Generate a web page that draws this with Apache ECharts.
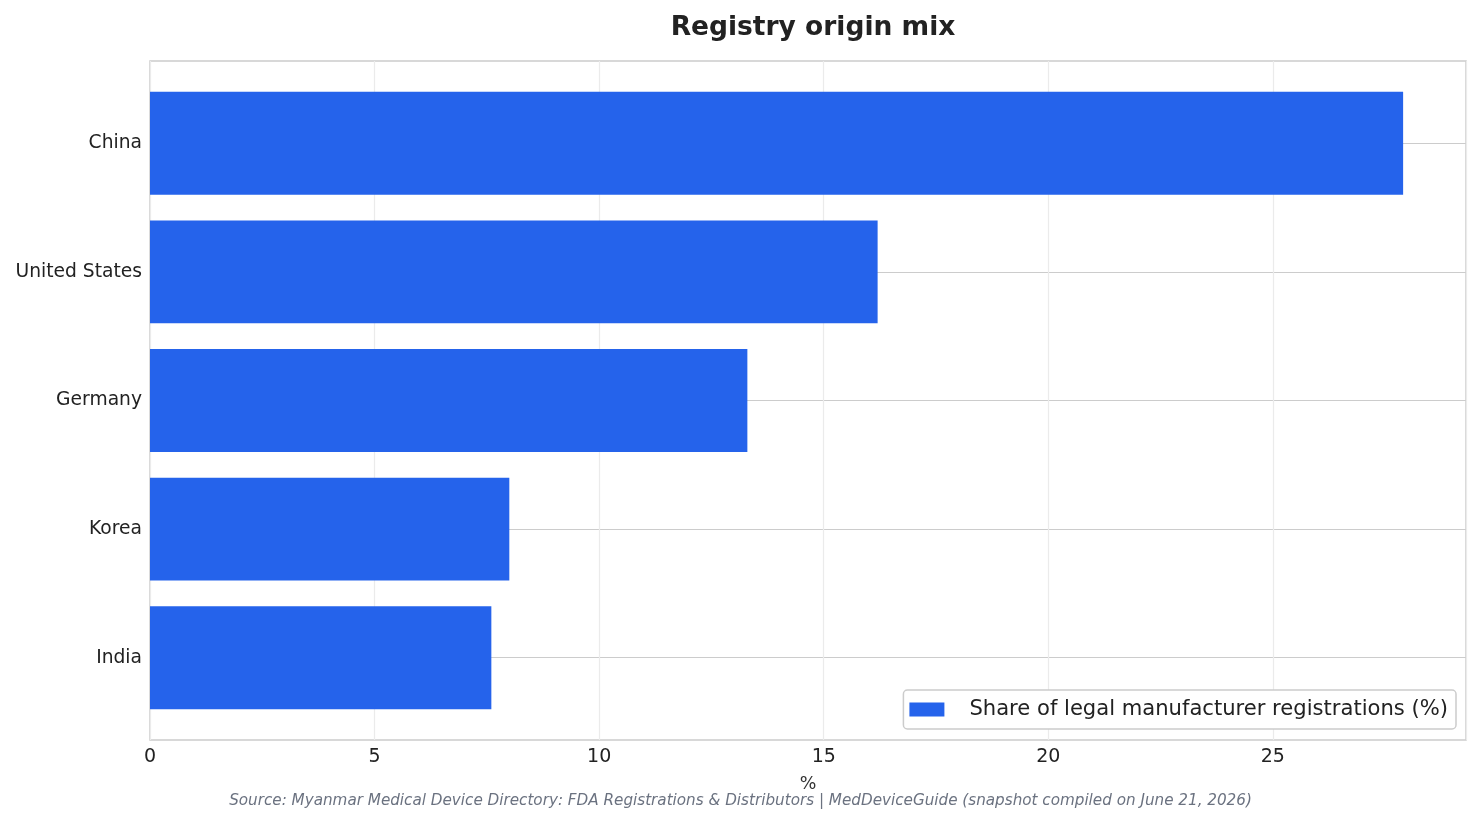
<!DOCTYPE html>
<html><head><meta charset="utf-8">
<script src="https://cdn.jsdelivr.net/npm/echarts@6/dist/echarts.min.js"></script>
<style>html,body{margin:0;padding:0;background:#fff}#c{width:1481px;height:824px}</style>
</head><body><div id="c"></div>
<script>
const categories = ["China", "United States", "Germany", "Korea", "India"];
const shareValues = [27.9, 16.2, 13.3, 8.0, 7.6];
const seriesName = "Share of legal manufacturer registrations (%)";
const xMin = 0, xMax = 29.3, xStep = 5;

const font = "DejaVu Sans";
const chart = echarts.init(document.getElementById('c'));
chart.setOption({
  animation: false,
  backgroundColor: '#fff',
  title: {
    text: 'Registry origin mix', left: 808, top: 10, textAlign: 'center',
    textStyle: {fontFamily: font, fontSize: 26.5, fontWeight: 'bold', color: '#222'}
  },
  graphic: [{
    type: 'text', left: 'center', top: 794,
    style: {text: 'Source: Myanmar Medical Device Directory: FDA Registrations & Distributors | MedDeviceGuide (snapshot compiled on June 21, 2026)',
      font: 'italic 15.2px "DejaVu Sans"', fill: '#6b7280'}
  }],
  legend: {
    data: [{name: seriesName, icon: 'rect'}], right: 25, top: 690, orient: 'vertical',
    itemWidth: 35, itemHeight: 14, itemGap: 5,
    padding: [9, 8, 9, 6],
    backgroundColor: '#fff', borderColor: '#cccccc', borderWidth: 1.5, borderRadius: 4,
    textStyle: {fontFamily: font, fontSize: 21.1, color: '#222', padding: [0, 0, 0, 20]}
  },
  grid: [
    {left: 150, right: 15, top: 61, bottom: 84, show: true, borderColor: '#cccccc', borderWidth: 1.5, backgroundColor: 'transparent'},
    {left: 150, right: 15, top: 79, bottom: 102}
  ],
  xAxis: [
    {type: 'value', gridIndex: 0, min: xMin, max: xMax, interval: xStep,
     name: '%', nameLocation: 'middle', nameGap: 35,
     nameTextStyle: {fontFamily: font, fontSize: 17.5, color: '#333'},
     axisLine: {show: false}, axisTick: {show: false},
     axisLabel: {fontFamily: font, fontSize: 19, color: '#222', margin: 8, showMaxLabel: false},
     splitLine: {show: true, lineStyle: {color: '#ebebeb', width: 1.2}}},
    {type: 'value', gridIndex: 1, min: xMin, max: xMax, interval: xStep, show: false,
     splitLine: {show: false}}
  ],
  yAxis: [
    {type: 'value', gridIndex: 0, show: false, splitLine: {show: false}},
    {type: 'category', gridIndex: 1, data: categories, inverse: true,
     axisLine: {show: false}, axisTick: {show: false},
     axisLabel: {fontFamily: font, fontSize: 18.7, color: '#222', margin: 8},
     splitLine: {show: true, alignWithLabel: true, lineStyle: {color: '#cccccc', width: 1.2}}}
  ],
  series: [{
    name: seriesName, type: 'bar', xAxisIndex: 1, yAxisIndex: 1,
    data: shareValues, barCategoryGap: '20%',
    itemStyle: {color: '#2563eb'}
  }]
});
</script></body></html>
